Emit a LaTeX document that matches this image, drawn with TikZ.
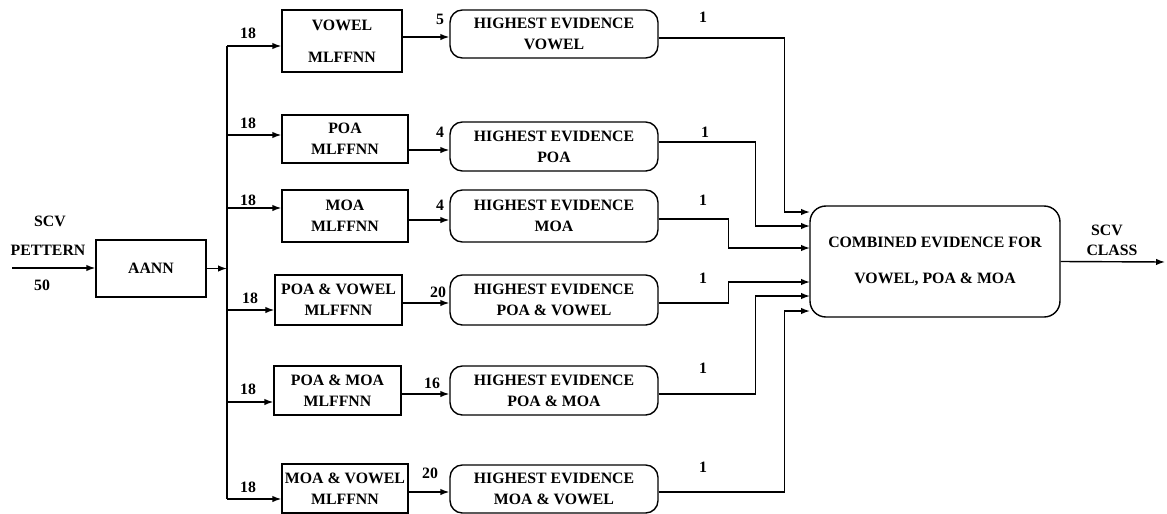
\documentclass[tikz,border=0pt]{standalone}
\usepackage{fontspec}
\setmainfont{Liberation Serif}
\usetikzlibrary{arrows.meta,positioning}

\begin{document}
\begin{tikzpicture}[x=0.02cm,y=-0.02cm,
    font=\fontsize{9}{12}\selectfont\bfseries,
    line width=0.8pt,
    arr/.style={-{Latex[length=1.8mm,width=1.3mm]}},
    netbox/.style={draw, align=center, minimum width=2.52cm, minimum height=1cm, inner sep=1pt},
    evbox/.style={draw, rounded corners=7pt, align=center, minimum width=4.16cm, minimum height=0.98cm, inner sep=1pt}]
    \useasboundingbox (0,0) rectangle (1167,514);

    % input and AANN
    \node[netbox, minimum width=2.2cm, minimum height=1.14cm] (aann) at (151,268.5) {AANN};
    \coordinate (in) at (12,268);
    \draw[arr] (in) -- (aann.west |- in);
    \node at (50,221) {SCV};
    \node at (48,250) {PETTERN};
    \node at (42,285) {50};

    % MLFFNN boxes
    \node[netbox, minimum width=2.4cm, minimum height=1.24cm] (vowelnet) at (342,41) {VOWEL\\[6pt]MLFFNN};
    \node[netbox, minimum height=0.96cm] (poanet) at (345,139) {POA\\MLFFNN};
    \node[netbox, minimum height=1.04cm] (moanet) at (345,216) {MOA\\MLFFNN};
    \node[netbox, minimum width=2.54cm] (pvnet) at (338.5,300) {POA \& VOWEL\\MLFFNN};
    \node[netbox, minimum width=2.54cm, minimum height=0.98cm] (pmnet) at (337.5,390.5) {POA \& MOA\\MLFFNN};
    \node[netbox, minimum height=0.98cm] (mvnet) at (345,488.5) {MOA \& VOWEL\\MLFFNN};

    % highest evidence boxes
    \node[evbox, minimum height=0.96cm] (hv) at (554,34) {HIGHEST EVIDENCE\\VOWEL};
    \node[evbox] (hp) at (554,146.5) {HIGHEST EVIDENCE\\POA};
    \node[evbox, minimum height=1.04cm] (hm) at (554,216) {HIGHEST EVIDENCE\\MOA};
    \node[evbox, minimum height=1cm] (hpv) at (554,300) {HIGHEST EVIDENCE\\POA \& VOWEL};
    \node[evbox] (hpm) at (554,390.5) {HIGHEST EVIDENCE\\POA \& MOA};
    \node[evbox, minimum height=0.96cm] (hmv) at (554,489) {HIGHEST EVIDENCE\\MOA \& VOWEL};

    % combined evidence
    \node[evbox, minimum width=5cm, minimum height=2.22cm, rounded corners=9pt] (comb) at (935,261.5) {COMBINED EVIDENCE FOR\\[9pt]VOWEL, POA \& MOA};
    \coordinate (out) at (1165,262);
    \draw[arr] (comb.east) -- (out);
    \node at (1107,230) {SCV};
    \node at (1112,250) {CLASS};

    % bus from AANN
    \coordinate (b1) at (227,46);
    \coordinate (b2) at (227,135);
    \coordinate (b3) at (227,208);
    \coordinate (b4) at (227,310);
    \coordinate (b5) at (227,402);
    \coordinate (b6) at (227,499);
    \draw (b1) -- (b6);
    \draw[arr] (aann.east) -- (aann.east -| b1);
    \draw[arr] (b1) -- (vowelnet.west |- b1);
    \draw[arr] (b2) -- (poanet.west |- b2);
    \draw[arr] (b3) -- (moanet.west |- b3);
    \draw[arr] (b4) -- (pvnet.west |- b4);
    \draw[arr] (b5) -- (pmnet.west |- b5);
    \draw[arr] (b6) -- (mvnet.west |- b6);
    \node at (248,33) {18};
    \node at (248,123) {18};
    \node at (248,200) {18};
    \node at (250,298) {18};
    \node at (248,389) {18};
    \node at (248,487) {18};

    % nets to highest evidence
    \coordinate (e1) at ([yshift=-0.06cm]hv.west);
    \coordinate (e2) at ([yshift=-0.07cm]hp.west);
    \coordinate (e3) at ([yshift=-0.08cm]hm.west);
    \coordinate (e4) at ([yshift=-0.06cm]hpv.west);
    \coordinate (e5) at ([yshift=-0.07cm]hpm.west);
    \coordinate (e6) at ([yshift=-0.06cm]hmv.west);
    \draw[arr] (vowelnet.east |- e1) -- (e1);
    \draw[arr] (poanet.east |- e2) -- (e2);
    \draw[arr] (moanet.east |- e3) -- (e3);
    \draw[arr] (pvnet.east |- e4) -- (e4);
    \draw[arr] (pmnet.east |- e5) -- (e5);
    \draw[arr] (mvnet.east |- e6) -- (e6);
    \node at (440,19) {5};
    \node at (440,132) {4};
    \node at (440,205) {4};
    \node at (438,292) {20};
    \node at (432,383) {16};
    \node at (430,473) {20};

    % highest evidence to combined
    \coordinate (o1) at ([yshift=-0.08cm]hv.east);
    \coordinate (o2) at ([yshift=0.09cm]hp.east);
    \coordinate (o3) at ([yshift=-0.06cm]hm.east);
    \coordinate (o4) at ([yshift=-0.06cm]hpv.east);
    \coordinate (o5) at ([yshift=-0.07cm]hpm.east);
    \coordinate (o6) at ([yshift=-0.06cm]hmv.east);
    \coordinate (c1) at (810,212);
    \coordinate (c2) at (810,226);
    \coordinate (c3) at (810,248);
    \coordinate (c4) at (810,282);
    \coordinate (c5) at (810,296);
    \coordinate (c6) at (810,311);
    \draw[arr] (o1) -- ++(126,0) |- (c1);
    \draw[arr] (o2) -- ++(97,0) |- (c2);
    \draw[arr] (o3) -- ++(70,0) |- (c3);
    \draw[arr] (o4) -- ++(70,0) |- (c4);
    \draw[arr] (o5) -- ++(97,0) |- (c5);
    \draw[arr] (o6) -- ++(126,0) |- (c6);
    \node at (703,17) {1};
    \node at (705,132) {1};
    \node at (703,200) {1};
    \node at (703,278) {1};
    \node at (703,368) {1};
    \node at (703,467) {1};
\end{tikzpicture}
\end{document}
